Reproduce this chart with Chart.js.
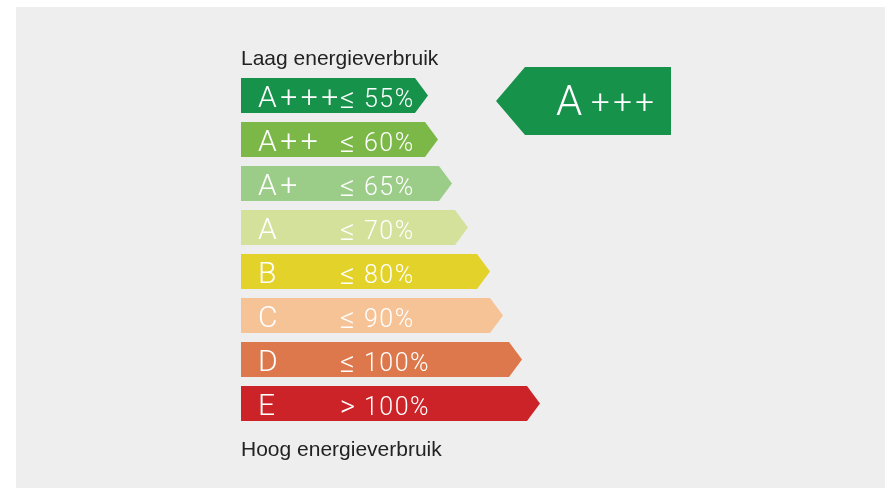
<!DOCTYPE html>
<html>
<head>
<meta charset="utf-8">
<script src="https://cdn.jsdelivr.net/npm/chart.js@4"></script>
<style>
  html, body { margin: 0; padding: 0; background: #ffffff; }
  #wrap { position: relative; width: 885px; height: 488px; overflow: hidden; }
  #bg { position: absolute; left: 16px; top: 7px; right: 0; bottom: 0; background: #eeeeee; }
  #label { position: absolute; left: 0; top: 0; }
</style>
</head>
<body>
<div id="wrap">
  <div id="bg"></div>
  <canvas id="label" width="885" height="488"></canvas>
</div>
<script>
// energieklassen en drempels
const classes = ["A+++", "A++", "A+", "A", "B", "C", "D", "E"];
const comparators = ["≤", "≤", "≤", "≤", "≤", "≤", "≤", ">"];
const thresholds = [55, 60, 65, 70, 80, 90, 100, 100];
const arrowLengths = [187, 197, 211, 227, 249, 262, 281, 299];
const colors = ["#17924b", "#7bb847", "#9ccd88", "#d3e19b", "#e3d22a", "#f6c396", "#dc784b", "#cc2329"];
const currentClass = "A+++";
const topText = "Laag energieverbruik";
const bottomText = "Hoog energieverbruik";

const whiteFont = "Roboto, 'Liberation Sans', sans-serif";
const darkFont = "'Liberation Sans', Arial, sans-serif";

const arrowPlugin = {
  id: "arrows",
  beforeDatasetDraw(chart, args) {
    const ctx = chart.ctx;
    const meta = args.meta;
    const area = chart.chartArea;
    const xs = chart.scales.x;
    ctx.save();
    meta.data.forEach((bar, i) => {
      const p = bar.getProps(["x", "y", "base", "height"], true);
      const top = p.y - p.height / 2, bot = p.y + p.height / 2;
      const tip = 13;
      ctx.fillStyle = colors[i];
      ctx.beginPath();
      ctx.moveTo(p.base, top);
      ctx.lineTo(p.x - tip, top);
      ctx.lineTo(p.x, p.y);
      ctx.lineTo(p.x - tip, bot);
      ctx.lineTo(p.base, bot);
      ctx.closePath();
      ctx.fill();

      ctx.fillStyle = "#ffffff";
      ctx.textBaseline = "alphabetic";
      ctx.textAlign = "left";
      ctx.font = "300 30px " + whiteFont;
      ctx.letterSpacing = "3.5px";
      ctx.fillText(classes[i], p.base + 17, p.y + 11.5);
      ctx.font = "300 29px " + whiteFont;
      ctx.letterSpacing = "0px";
      ctx.fillText(comparators[i], p.base + 99, p.y + 12.5);
      ctx.font = "300 25px " + whiteFont;
      ctx.letterSpacing = "1.5px";
      ctx.fillText(thresholds[i] + "%", p.base + 123, p.y + 11.5);
    });

    // huidige klasse
    const ci = classes.indexOf(currentClass);
    const cb = meta.data[ci].getProps(["y", "height"], true);
    const bTop = cb.y - cb.height / 2 - 11, bBot = bTop + 68;
    const bTip = xs.getPixelForValue(255), bLeft = bTip + 29, bRight = bTip + 175;
    const bMid = (bTop + bBot) / 2;
    ctx.fillStyle = colors[ci];
    ctx.beginPath();
    ctx.moveTo(bTip, bMid);
    ctx.lineTo(bLeft, bTop);
    ctx.lineTo(bRight, bTop);
    ctx.lineTo(bRight, bBot);
    ctx.lineTo(bLeft, bBot);
    ctx.closePath();
    ctx.fill();
    ctx.fillStyle = "#ffffff";
    ctx.font = "300 42px " + whiteFont;
    ctx.letterSpacing = "0px";
    ctx.fillText(currentClass.charAt(0), bTip + 60, bMid + 14);
    ctx.font = "300 33px " + whiteFont;
    ctx.letterSpacing = "3.5px";
    ctx.fillText(currentClass.slice(1), bTip + 95, bMid + 12);

    // boven- en onderschrift
    ctx.fillStyle = "#222222";
    ctx.letterSpacing = "0px";
    ctx.font = "21px " + darkFont;
    ctx.fillText(topText, area.left, area.top - 8.5);
    ctx.fillText(bottomText, area.left, area.bottom + 30.5);
    ctx.restore();
    return false;
  }
};

new Chart(document.getElementById("label"), {
  type: "bar",
  data: {
    labels: classes,
    datasets: [{
      data: arrowLengths,
      backgroundColor: colors,
      barThickness: 35
    }]
  },
  options: {
    indexAxis: "y",
    responsive: false,
    animation: false,
    layout: { padding: { left: 241, top: 73.5, bottom: 62.5, right: 0 } },
    scales: {
      x: { display: false, min: 0, max: 644 },
      y: { display: false }
    },
    plugins: {
      legend: { display: false },
      tooltip: { enabled: false },
      title: { display: false }
    }
  },
  plugins: [arrowPlugin]
});
</script>
</body>
</html>
